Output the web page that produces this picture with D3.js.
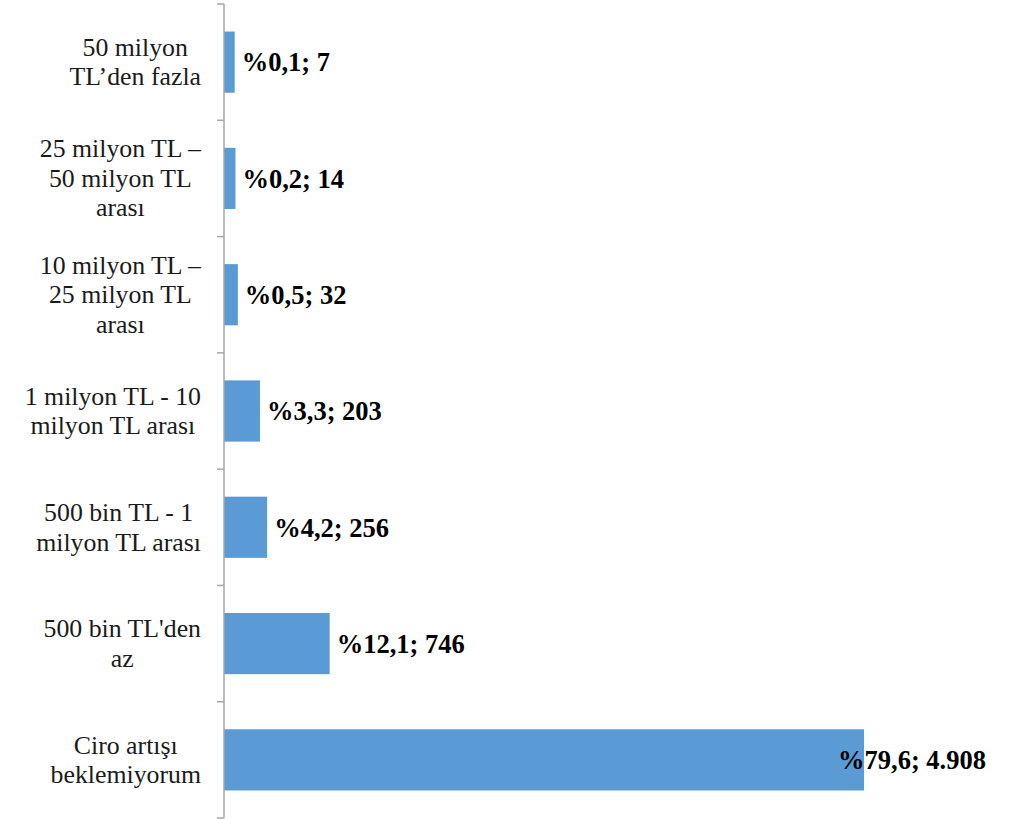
<!DOCTYPE html>
<html><head><meta charset="utf-8">
<script src="https://cdn.jsdelivr.net/npm/d3@7"></script>
<style>html,body{margin:0;padding:0;background:#fff;}</style>
</head><body>
<script>
const categories = [
  ["50 milyon", "TL\u2019den fazla"],
  ["25 milyon TL \u2013", "50 milyon TL", "aras\u0131"],
  ["10 milyon TL \u2013", "25 milyon TL", "aras\u0131"],
  ["1 milyon TL - 10", "milyon TL aras\u0131"],
  ["500 bin TL - 1", "milyon TL aras\u0131"],
  ["500 bin TL'den", "az"],
  ["Ciro art\u0131\u015f\u0131", "beklemiyorum"]
];
const percents = [0.1, 0.2, 0.5, 3.3, 4.2, 12.1, 79.6];
const counts = [7, 14, 32, 203, 256, 746, 4908];

(function () {
const W = 1024, H = 819;
const svg = d3.select("body").append("svg").attr("width", W).attr("height", H);

const axisX = 224, plotTop = 4, plotBottom = 818, plotRight = 986;
const idx = d3.range(categories.length);
const y = d3.scaleBand().domain(idx).range([plotTop, plotBottom]).paddingInner(0.9/1.9).paddingOuter(0.45/1.9);
const yBand = d3.scaleBand().domain(idx).range([plotTop, plotBottom]);
const x = d3.scaleLinear().domain([-1.25, 79.6]).range([axisX, 864]);

// bars
svg.selectAll("rect.bar").data(idx).enter().append("rect")
  .attr("class", "bar")
  .attr("x", axisX)
  .attr("y", i => y(i))
  .attr("width", i => x(percents[i]) - axisX)
  .attr("height", y.bandwidth())
  .attr("fill", "#5B9BD5");

// axis line and ticks
const ag = svg.append("g").attr("stroke", "#A6A6A6").attr("stroke-width", 1.5);
ag.append("line").attr("x1", axisX).attr("x2", axisX).attr("y1", plotTop).attr("y2", plotBottom);
const tickPos = idx.map(i => yBand(i)).concat([plotBottom]);
ag.selectAll("line.t").data(tickPos).enter().append("line")
  .attr("class", "t")
  .attr("x1", axisX - 7).attr("x2", axisX).attr("y1", d => d).attr("y2", d => d);

// category labels
const font = "'Liberation Serif', 'Times New Roman', serif";
const lineH = 29.5;
const catRight = 201;
idx.forEach(i => {
  const lines = categories[i];
  const g = svg.append("g");
  const texts = lines.map(l => g.append("text")
    .attr("font-family", font).attr("font-size", 25.8).attr("fill", "#1a1a1a")
    .attr("text-anchor", "middle")
    .text(l));
  const maxW = d3.max(texts, t => t.node().getComputedTextLength());
  const cx = catRight - maxW / 2;
  const cy = yBand(i) + yBand.bandwidth() / 2;
  texts.forEach((t, k) => {
    t.attr("x", cx).attr("y", cy + (k - (lines.length - 1) / 2) * lineH).attr("dy", "0.33em");
  });
});

// value labels
const fmtPct = v => "%" + String(v).replace(".", ",");
const fmtCnt = v => d3.format(",")(v).replace(/,/g, ".");
idx.forEach(i => {
  const t = svg.append("text")
    .attr("font-family", font).attr("font-size", 26.5).attr("font-weight", "bold").attr("fill", "#000")
    .attr("y", y(i) + y.bandwidth() / 2).attr("dy", "0.35em")
    .text(fmtPct(percents[i]) + "; " + fmtCnt(counts[i]));
  const w = t.node().getComputedTextLength();
  let tx = x(percents[i]) + 7;
  if (tx + w > plotRight) tx = plotRight - w;
  t.attr("x", tx);
});
})();
</script>
</body></html>
